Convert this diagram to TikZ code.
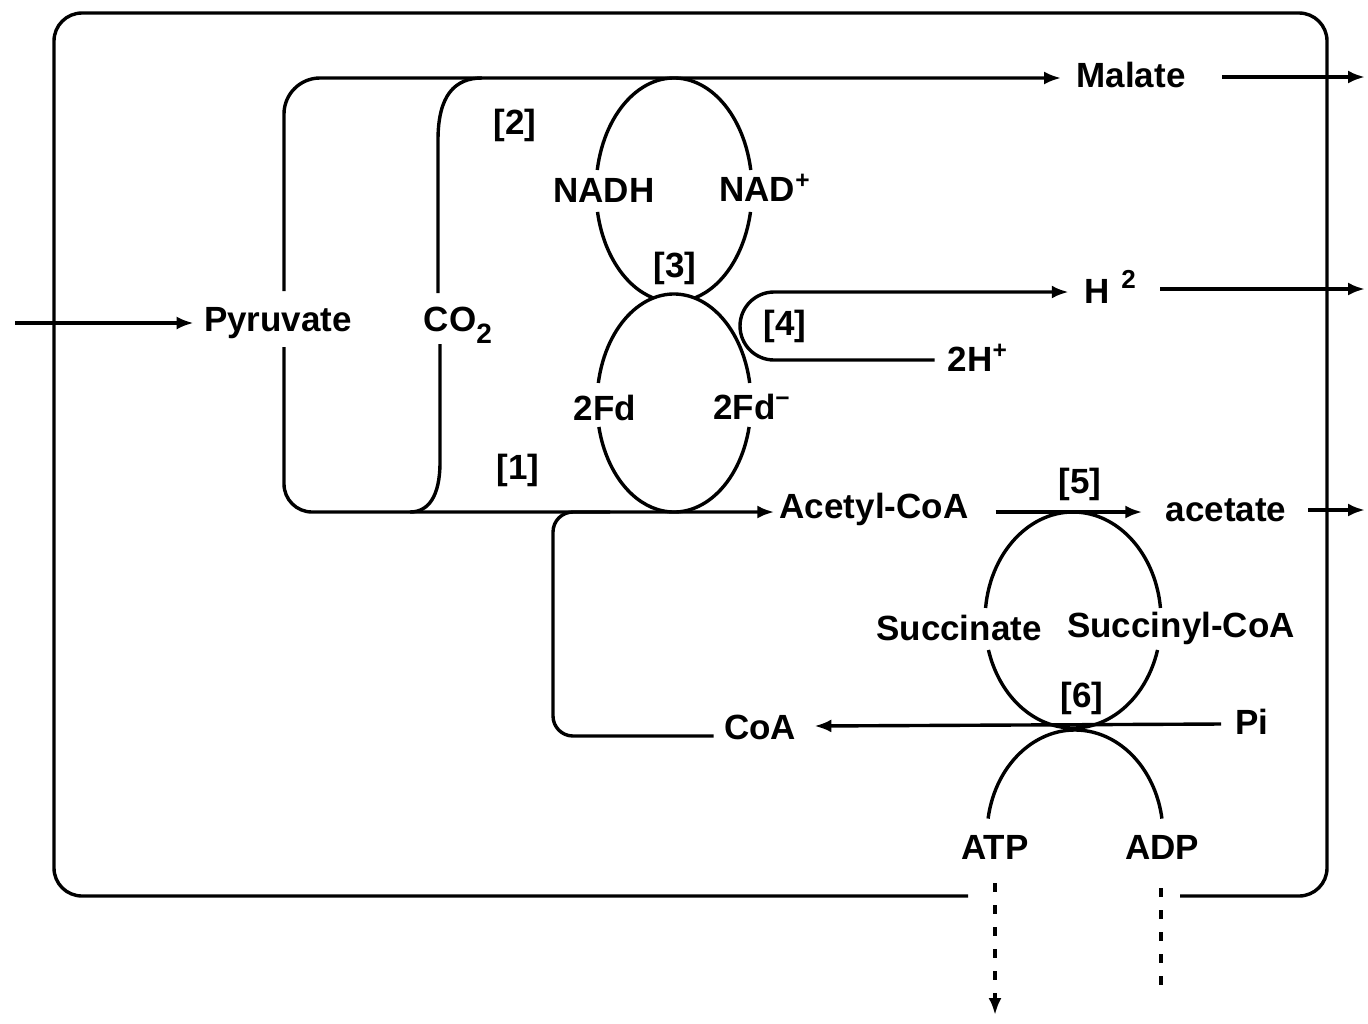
\documentclass[tikz,border=0pt]{standalone}
\usepackage{fontspec}
\setmainfont{Liberation Sans}
\usetikzlibrary{arrows.meta}
\begin{document}
\begin{tikzpicture}[x=0.5pt,y=-0.5pt,
  ln/.style={line width=1.7pt},
  tip/.tip={Latex[length=8.5pt,width=6.5pt]},
  arr/.style={ln,-tip},
  dsh/.style={ln,dash pattern=on 4.5pt off 6.5pt},
  lbl/.style={font=\bfseries\fontsize{17.5}{20}\selectfont, inner sep=0pt},
  ]
\useasboundingbox (0,0) rectangle (1368,1023);
\fill[white] (0,0) rectangle (1368,1023);

% ---- text nodes
\node[lbl] (pyr) at (278,323) {Pyruvate};
\node[lbl] (co2) at (458,325) {CO\raisebox{-0.35em}{\fontsize{14}{14}\selectfont 2}};
\node[lbl] (b2) at (515,125) {[2]};
\node[lbl] (b1) at (518,470) {[1]};
\node[lbl] (nadh) at (604,190) {NADH};
\node[lbl] (nad) at (765,188) {NAD\textsuperscript{+}};
\node[lbl] (b3) at (675,268) {[3]};
\node[lbl] (b4) at (785,326) {[4]};
\node[lbl] (fd) at (605,408) {2Fd};
\node[lbl] (fdm) at (752,407) {2Fd\textsuperscript{−}};
\node[lbl] (h2) at (1110,287) {H\hspace{6pt}\raisebox{0.45em}{\fontsize{13}{13}\selectfont 2}};
\node[lbl] (twoh) at (978,358) {2H\textsuperscript{+}};
\node[lbl] (malate) at (1131,75) {Malate};
\node[lbl] (acetyl) at (874,509) {Acetyl-CoA};
\node[lbl] (b5) at (1080,484) {[5]};
\node[lbl] (acetate) at (1226,510) {acetate};
\node[lbl] (succ) at (959,628) {Succinate};
\node[lbl] (succoa) at (1181,628) {Succinyl-CoA};
\node[lbl] (b6) at (1082,698) {[6]};
\node[lbl] (pi) at (1252,722) {Pi};
\node[lbl] (coa) at (760,727) {CoA};
\node[lbl] (atp) at (995,847) {ATP};
\node[lbl] (adp) at (1162,847) {ADP};

% ---- coordinates for free ends
\coordinate (inS) at (15,323);
\coordinate (malOut) at (1365,77);
\coordinate (h2Out) at (1365,289);
\coordinate (acOut) at (1365,510);
\coordinate (atpS) at (995,883);
\coordinate (atpEnd) at (995,1015);
\coordinate (adpS) at (1161,888);
\coordinate (adpEnd) at (1161,995);
\coordinate (pyrTop) at (284,291);
\coordinate (pyrBot) at (284,347);
\coordinate (co2Top) at (438,293);
\coordinate (co2Bot) at (440,344);

% ---- outer cell box
\draw[ln,rounded corners=14pt] (968,896) -- (54,896) -- (54,13) -- (1327,13) -- (1327,896) -- (1180,896);

% ---- input
\draw[arr] (inS) -- ([xshift=-5pt]pyr.west);

% ---- pyruvate bracket
\draw[arr,rounded corners=18pt] (pyrTop) -- (284,78) -- ([xshift=-7.5pt]malate.west |- 0,78);
\draw[arr,rounded corners=14pt] (pyrBot) -- (284,512) -- ([xshift=-2.5pt]acetyl.west |- 0,512);

% ---- CO2 bracket
\draw[ln] (co2Top) -- (438,140) .. controls (438,95) and (455,78) .. (482,78);
\draw[ln] (co2Bot) -- (440,462) .. controls (440,497) and (428,512) .. (410,512);

% ---- upper ellipse (NADH / NAD+)
\draw[ln] (674,190) ++(105.6:78 and 112) arc[start angle=105.6, end angle=168.7, x radius=78, y radius=112];
\draw[ln] (674,190) ++(190.3:78 and 112) arc[start angle=190.3, end angle=349.7, x radius=78, y radius=112];
\draw[ln] (674,190) ++(11.3:78 and 112) arc[start angle=11.3, end angle=74.4, x radius=78, y radius=112];

% ---- lower ellipse (2Fd / 2Fd-)
\draw[ln] (674,403) ++(12.7:77 and 109) arc[start angle=12.7, end angle=167.3, x radius=77, y radius=109];
\draw[ln] (674,403) ++(190.6:77 and 109) arc[start angle=190.6, end angle=349.4, x radius=77, y radius=109];

% ---- [4] hydrogenase loop
\draw[arr,rounded corners=17pt] ([xshift=-6.5pt]twoh.west |- 0,360) -- (740,360) -- (740,292) -- ([xshift=-7.5pt]h2.west |- 0,292);

% ---- exits
\draw[arr] (1222,77) -- (malOut);
\draw[arr] (1160,289) -- (h2Out);
\draw[arr] (1308,510) -- (acOut);

% ---- [5]
\draw[arr] ([xshift=13.5pt]acetyl.east |- 0,512) -- ([xshift=-11.5pt]acetate.west |- 0,512);

% ---- succinate ellipse
\draw[ln] (1073,620) ++(16.1:88 and 108) arc[start angle=16.1, end angle=163.9, x radius=88, y radius=108];
\draw[ln] (1073,620) ++(186.4:88 and 108) arc[start angle=186.4, end angle=353.6, x radius=88, y radius=108];

% ---- CoA return
\draw[arr] ([xshift=-7pt]pi.west |- 0,724) -- ([xshift=9pt]coa.east |- 0,726);
\draw[ln,rounded corners=10pt] ([xshift=-5pt]coa.west |- 0,736) -- (553,736) -- (553,512) -- (610,512);

% ---- ATP / ADP arch
\draw[ln] (1075,835) ++(189:88 and 105) arc[start angle=189, end angle=351, x radius=88, y radius=105];

% ---- dashed transports
\draw[dsh,-tip] (atpS) -- (atpEnd);
\draw[dsh] (adpS) -- (adpEnd);
\end{tikzpicture}
\end{document}
